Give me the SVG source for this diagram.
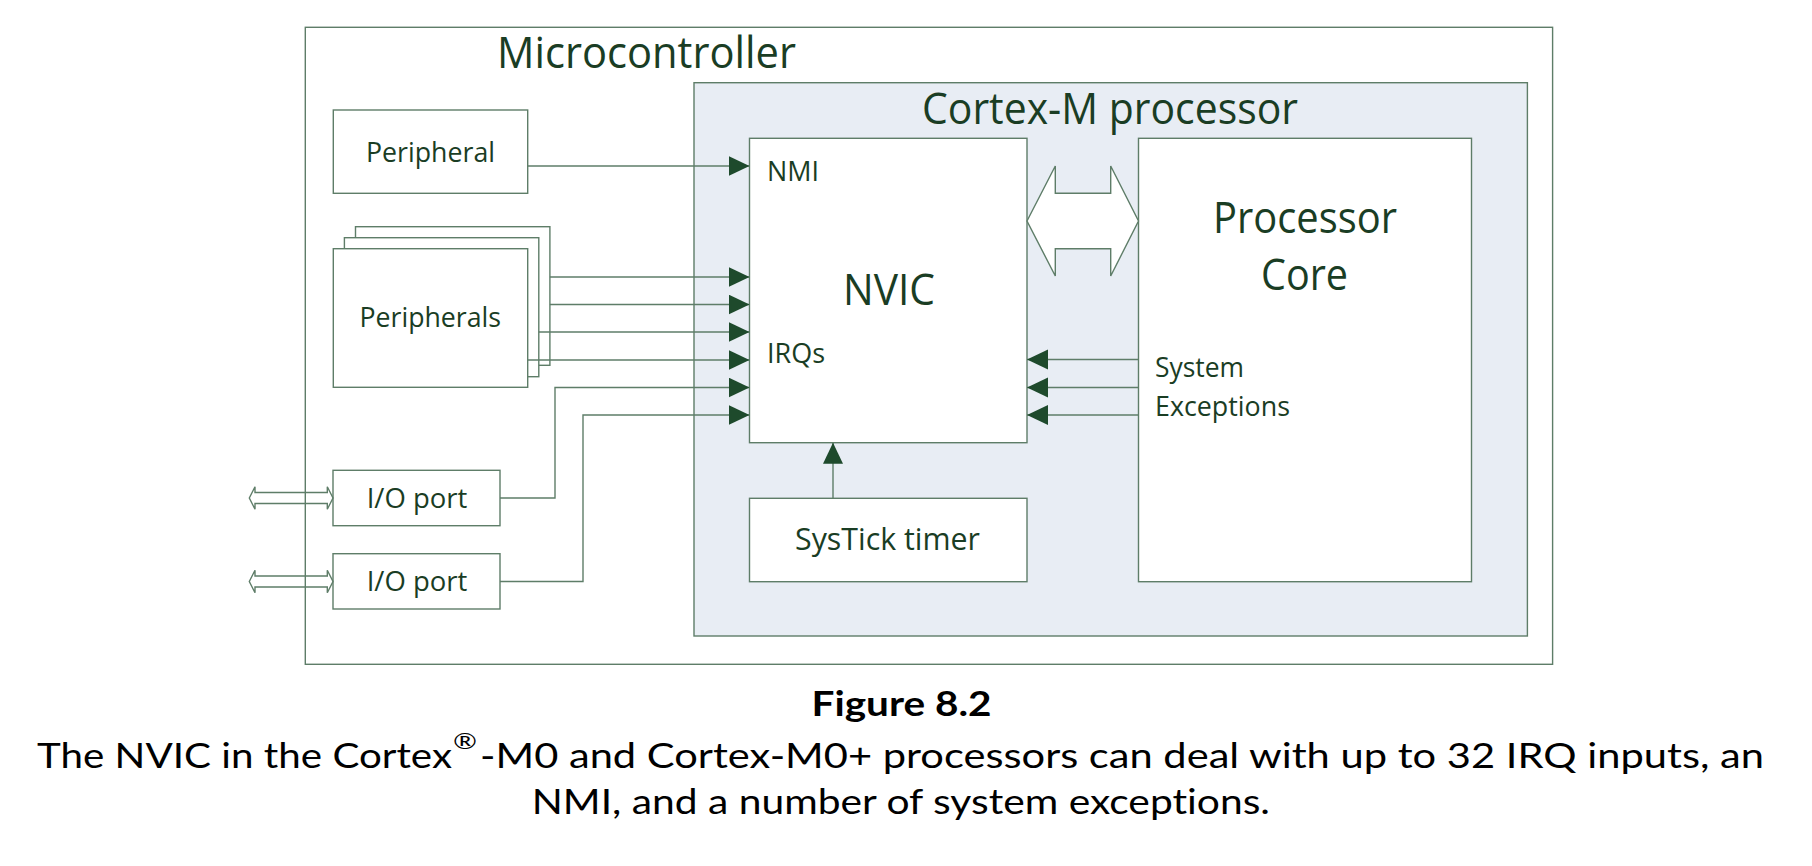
<svg xmlns="http://www.w3.org/2000/svg" width="1812" height="866" viewBox="0 0 1812 866">
<style>
.box{fill:#ffffff;stroke:#5e7d68;stroke-width:1.4}
.cortex{fill:#e8edf4;stroke:#5e7d68;stroke-width:1.4}
.wire{fill:none;stroke:#5e7d68;stroke-width:1.4}
.lbl{font-family:"Open Sans","Liberation Sans",sans-serif;fill:#1a3d24}
.big{font-size:43px}
.sm{font-size:28px}
.cap{font-family:Lato,"Open Sans","Liberation Sans",sans-serif;fill:#000000;font-size:35px;font-variant-ligatures:none}
</style>
<defs>
<marker id="ah" markerUnits="userSpaceOnUse" markerWidth="22" markerHeight="21" refX="21" refY="10" orient="auto">
<path d="M0,0 L21,10 L0,20 Z" fill="#1e4a2c"/>
</marker>
</defs>
<rect width="1812" height="866" fill="#ffffff"/>
<g id="microcontroller">
<rect class="box" x="305.3" y="27.3" width="1247.3" height="637"/>
<text class="lbl big" x="497" y="68" textLength="299" lengthAdjust="spacingAndGlyphs">Microcontroller</text>
</g>
<g id="cortex-m">
<rect class="cortex" x="694" y="82.7" width="833.4" height="553.3"/>
<text class="lbl big" x="922" y="124" textLength="376" lengthAdjust="spacingAndGlyphs">Cortex-M processor</text>
</g>
<g id="nvic">
<rect class="box" x="749.5" y="138.3" width="277.5" height="304.4"/>
<text class="lbl big" x="843" y="305" textLength="92" lengthAdjust="spacingAndGlyphs">NVIC</text>
<text class="lbl sm" x="767" y="181" textLength="52" lengthAdjust="spacingAndGlyphs">NMI</text>
<text class="lbl sm" x="767" y="363" textLength="58" lengthAdjust="spacingAndGlyphs">IRQs</text>
</g>
<g id="processor-core">
<rect class="box" x="1138.5" y="138.3" width="333" height="443.4"/>
<text class="lbl big" x="1213" y="233" textLength="184" lengthAdjust="spacingAndGlyphs">Processor</text>
<text class="lbl big" x="1261" y="290" textLength="87" lengthAdjust="spacingAndGlyphs">Core</text>
<text class="lbl sm" x="1155" y="377" textLength="89" lengthAdjust="spacingAndGlyphs">System</text>
<text class="lbl sm" x="1155" y="416" textLength="135" lengthAdjust="spacingAndGlyphs">Exceptions</text>
</g>
<g id="systick">
<rect class="box" x="749.5" y="498.3" width="277.5" height="83.4"/>
<text class="lbl" style="font-size:31px" x="795" y="550" textLength="185" lengthAdjust="spacingAndGlyphs">SysTick timer</text>
</g>
<g id="peripheral">
<rect class="box" x="333.3" y="110" width="194.4" height="83.3"/>
<text class="lbl sm" x="366" y="162" textLength="129" lengthAdjust="spacingAndGlyphs">Peripheral</text>
</g>
<g id="peripherals">
<rect class="box" x="355.5" y="226.7" width="194.4" height="138.6"/>
<rect class="box" x="344.4" y="237.7" width="194.4" height="139"/>
<rect class="box" x="333.3" y="248.7" width="194.4" height="138.6"/>
<text class="lbl sm" x="359.5" y="327" textLength="141.5" lengthAdjust="spacingAndGlyphs">Peripherals</text>
</g>
<g id="io-port-1">
<rect class="box" x="333" y="470.3" width="167" height="55.4"/>
<text class="lbl sm" x="366.7" y="508" textLength="100.6" lengthAdjust="spacingAndGlyphs">I/O port</text>
</g>
<g id="io-port-2">
<rect class="box" x="333" y="553.7" width="167" height="55.3"/>
<text class="lbl sm" x="366.7" y="591" textLength="100.6" lengthAdjust="spacingAndGlyphs">I/O port</text>
</g>
<g id="connectors">
<line class="wire" x1="527.7" y1="166" x2="749.5" y2="166" marker-end="url(#ah)"/>
<line class="wire" x1="549.9" y1="277" x2="749.5" y2="277" marker-end="url(#ah)"/>
<line class="wire" x1="549.9" y1="304.5" x2="749.5" y2="304.5" marker-end="url(#ah)"/>
<line class="wire" x1="538.8" y1="332" x2="749.5" y2="332" marker-end="url(#ah)"/>
<line class="wire" x1="527.7" y1="360" x2="749.5" y2="360" marker-end="url(#ah)"/>
<polyline class="wire" points="500,498 555,498 555,387.5 749.5,387.5" marker-end="url(#ah)"/>
<polyline class="wire" points="500,581.5 583,581.5 583,415 749.5,415" marker-end="url(#ah)"/>
<line class="wire" x1="1138.5" y1="359.5" x2="1027" y2="359.5" marker-end="url(#ah)"/>
<line class="wire" x1="1138.5" y1="387.5" x2="1027" y2="387.5" marker-end="url(#ah)"/>
<line class="wire" x1="1138.5" y1="415" x2="1027" y2="415" marker-end="url(#ah)"/>
<line class="wire" x1="833" y1="498.3" x2="833" y2="442.7" marker-end="url(#ah)"/>
<polygon class="box" points="1027,221 1055.3,166 1055.3,193.3 1110.7,193.3 1110.7,166 1138.5,221 1110.7,276 1110.7,248.7 1055.3,248.7 1055.3,276"/>
<polygon class="wire" points="249.3,498 255,486.7 255,492.5 327.3,492.5 327.3,486.7 333,498 327.3,509.3 327.3,503.5 255,503.5 255,509.3"/>
<polygon class="wire" points="249.3,581.5 255,570.2 255,576 327.3,576 327.3,570.2 333,581.5 327.3,592.8 327.3,587 255,587 255,592.8"/>
</g>
<g id="caption">
<text class="cap" x="811.5" y="716" style="font-weight:bold" textLength="180" lengthAdjust="spacingAndGlyphs">Figure 8.2</text>
<text class="cap" x="37" y="768" textLength="415" lengthAdjust="spacingAndGlyphs">The NVIC in the Cortex</text>
<text class="cap" x="453" y="749" style="font-size:21px" textLength="24" lengthAdjust="spacingAndGlyphs">®</text>
<text class="cap" x="480" y="768" textLength="1284" lengthAdjust="spacingAndGlyphs">-M0 and Cortex-M0+ processors can deal with up to 32 IRQ inputs, an</text>
<text class="cap" x="531.7" y="814" textLength="738.3" lengthAdjust="spacingAndGlyphs">NMI, and a number of system exceptions.</text>
</g>
</svg>
